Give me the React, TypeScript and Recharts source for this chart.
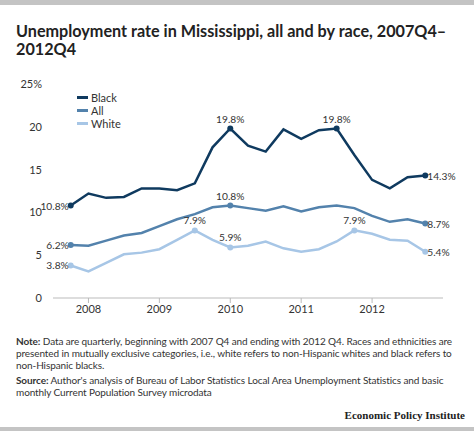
import React from "react";
import { LineChart, Line, XAxis, YAxis } from "recharts";

// quarterly, 2007Q4 .. 2012Q4
const quarters = [
  "2007Q4",
  "2008Q1", "2008Q2", "2008Q3", "2008Q4",
  "2009Q1", "2009Q2", "2009Q3", "2009Q4",
  "2010Q1", "2010Q2", "2010Q3", "2010Q4",
  "2011Q1", "2011Q2", "2011Q3", "2011Q4",
  "2012Q1", "2012Q2", "2012Q3", "2012Q4",
];

const black = [10.8, 12.2, 11.7, 11.8, 12.8, 12.8, 12.6, 13.4, 17.6, 19.8, 17.8, 17.1, 19.7, 18.6, 19.6, 19.8, 16.7, 13.8, 12.8, 14.1, 14.3];
const all = [6.2, 6.1, 6.7, 7.3, 7.6, 8.4, 9.2, 9.8, 10.6, 10.8, 10.5, 10.2, 10.7, 10.1, 10.6, 10.8, 10.5, 9.6, 8.9, 9.2, 8.7];
const white = [3.8, 3.1, 4.1, 5.1, 5.3, 5.7, 6.8, 7.9, 6.8, 5.9, 6.1, 6.6, 5.8, 5.4, 5.7, 6.6, 7.9, 7.5, 6.8, 6.7, 5.4];

// which points get a dot + value label
const blackLabels = [0, 9, 15, 20];
const allLabels = [0, 9, 20];
const whiteLabels = [0, 7, 9, 16, 20];

const yearTicks = [1, 5, 9, 13, 17];
const yTicks = [0, 5, 10, 15, 20, 25];

const COLORS = {
  black: "#0f3a5f",
  all: "#5382ac",
  white: "#a7c6e6",
};

const FONT = "Lato, 'Open Sans', sans-serif";

const data = quarters.map((q, i) => ({
  x: i,
  quarter: q,
  black: black[i],
  all: all[i],
  white: white[i],
}));

const makeDot = (labels: number[], color: string) => (props: any) => {
  const { cx, cy, index } = props;
  if (!labels.includes(index)) return <g key={`d-${index}`} />;
  return <circle key={`d-${index}`} cx={cx} cy={cy} r={3} fill={color} stroke="none" />;
};

const makeLabel = (labels: number[]) => (props: any) => {
  const { x, y, value, index } = props;
  if (!labels.includes(index)) return null;
  const text = `${Number(value).toFixed(1)}%`;
  let tx = x;
  let ty = y - 6;
  let anchor: "start" | "middle" | "end" = "middle";
  if (index === 0) {
    tx = x - 2;
    ty = y + 4;
    anchor = "end";
  } else if (index === quarters.length - 1) {
    tx = x + 2;
    ty = y + 4;
    anchor = "start";
  }
  return (
    <text key={`l-${index}`} x={tx} y={ty} textAnchor={anchor} fontSize={10.2} fill="#333" fontFamily={FONT}>
      {text}
    </text>
  );
};

const legendItems = [
  { name: "Black", color: COLORS.black },
  { name: "All", color: COLORS.all },
  { name: "White", color: COLORS.white },
];

export default function App() {
  return (
    <div
      style={{
        position: "fixed",
        left: 0,
        top: 0,
        width: 474,
        height: 431,
        background: "#fff",
        fontFamily: FONT,
        overflow: "hidden",
      }}
    >
      <div style={{ position: "absolute", left: 0, top: 0, width: 474, height: 5, background: "#c4c4c4" }} />
      <div
        style={{
          position: "absolute",
          left: 16,
          top: 22,
          width: 458,
          fontSize: 16.2,
          fontWeight: 700,
          lineHeight: "17.5px",
          color: "#222",
          whiteSpace: "nowrap",
        }}
      >
        Unemployment rate in Mississippi, all and by race, 2007Q4–
        <br />
        2012Q4
      </div>

      <div style={{ position: "absolute", left: 0, top: 0 }}>
        <LineChart width={474} height={330} data={data} margin={{ top: 84, right: 31, bottom: 2, left: 0 }}>
          <XAxis
            dataKey="x"
            type="number"
            domain={[-1, 21]}
            ticks={yearTicks}
            tickFormatter={(v: number) => quarters[v].slice(0, 4)}
            axisLine={{ stroke: "#bbb" }}
            tickLine={{ stroke: "#bbb" }}
            tickSize={5}
            tick={{ fontSize: 11, fill: "#333", fontFamily: FONT }}
            height={30}
            interval={0}
          />
          <YAxis
            type="number"
            domain={[0, 25]}
            ticks={yTicks}
            tickFormatter={(v: number) => (v === 25 ? "25%" : String(v))}
            axisLine={false}
            tickLine={false}
            tick={{ fontSize: 11, fill: "#333", fontFamily: FONT }}
            width={53}
            tickMargin={5}
          />
          <Line
            dataKey="black"
            name="Black"
            stroke={COLORS.black}
            strokeWidth={2.5}
            dot={makeDot(blackLabels, COLORS.black)}
            activeDot={false}
            label={makeLabel(blackLabels)}
            isAnimationActive={false}
          />
          <Line
            dataKey="all"
            name="All"
            stroke={COLORS.all}
            strokeWidth={2.5}
            dot={makeDot(allLabels, COLORS.all)}
            activeDot={false}
            label={makeLabel(allLabels)}
            isAnimationActive={false}
          />
          <Line
            dataKey="white"
            name="White"
            stroke={COLORS.white}
            strokeWidth={2.5}
            dot={makeDot(whiteLabels, COLORS.white)}
            activeDot={false}
            label={makeLabel(whiteLabels)}
            isAnimationActive={false}
          />
        </LineChart>
      </div>

      {/* legend */}
      <div style={{ position: "absolute", left: 77, top: 91, fontSize: 11, color: "#333" }}>
        {legendItems.map((it) => (
          <div key={it.name} style={{ display: "flex", alignItems: "center", height: 13 }}>
            <div style={{ width: 11, height: 3, background: it.color, marginRight: 3 }} />
            <span>{it.name}</span>
          </div>
        ))}
      </div>

      <div
        style={{
          position: "absolute",
          left: 16,
          top: 335,
          fontSize: 10,
          letterSpacing: -0.1,
          lineHeight: "12px",
          color: "#333",
          whiteSpace: "nowrap",
        }}
      >
        <div>
          <b>Note:</b> Data are quarterly, beginning with 2007 Q4 and ending with 2012 Q4. Races and ethnicities are
          <br />
          presented in mutually exclusive categories, i.e., white refers to non-Hispanic whites and black refers to
          <br />
          non-Hispanic blacks.
        </div>
        <div style={{ marginTop: 3 }}>
          <b>Source:</b> Author's analysis of Bureau of Labor Statistics Local Area Unemployment Statistics and basic
          <br />
          monthly Current Population Survey microdata
        </div>
      </div>

      <div
        style={{
          position: "absolute",
          right: 9,
          top: 409,
          fontFamily: "'Liberation Serif', 'DejaVu Serif', serif",
          fontWeight: 700,
          fontSize: 11,
          color: "#222",
        }}
      >
        Economic Policy Institute
      </div>
      <div style={{ position: "absolute", left: 0, top: 427, width: 474, height: 4, background: "#c4c4c4" }} />
    </div>
  );
}
